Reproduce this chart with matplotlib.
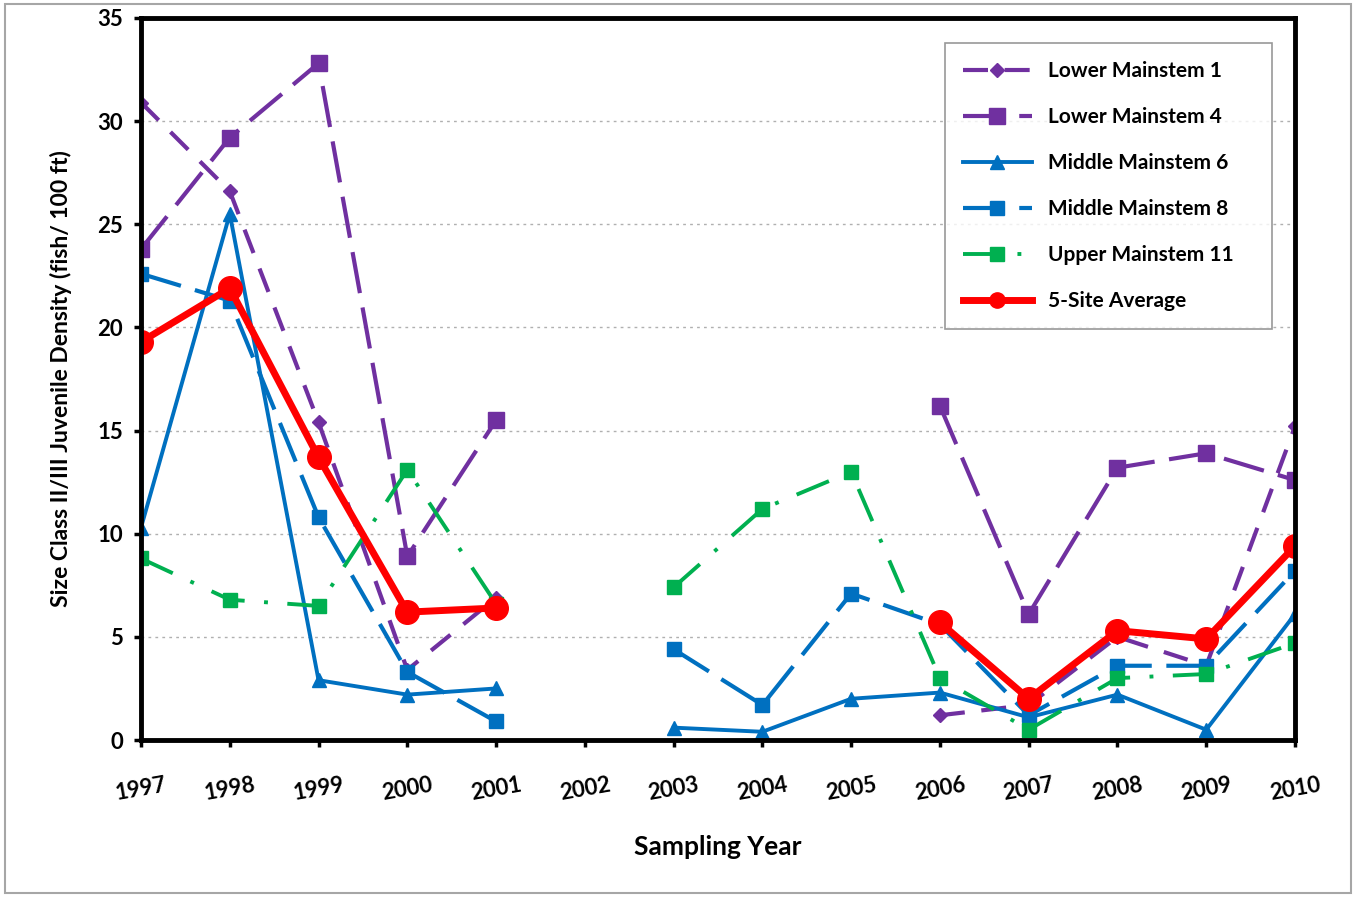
import numpy as np
import matplotlib.pyplot as plt
from matplotlib.patches import Rectangle

plt.rcParams['font.family'] = ['Lato', 'DejaVu Sans']

# 数据（从图中读取，nan 表示缺测）
nan = np.nan
years = ['1997', '1998', '1999', '2000', '2001', '2002', '2003',
         '2004', '2005', '2006', '2007', '2008', '2009', '2010']

lower_ms1 = [30.9, 26.6, 15.4, 3.4, 6.9, nan, nan, nan, nan, 1.2, 1.7, 5.0, 3.6, 15.2]
lower_ms4 = [23.8, 29.2, 32.8, 8.9, 15.5, nan, nan, nan, nan, 16.2, 6.1, 13.2, 13.9, 12.6]
middle_ms6 = [10.3, 25.5, 2.9, 2.2, 2.5, nan, 0.6, 0.4, 2.0, 2.3, 1.1, 2.2, 0.5, 6.1]
middle_ms8 = [22.6, 21.3, 10.8, 3.3, 0.9, nan, 4.4, 1.7, 7.1, 5.6, 1.2, 3.6, 3.6, 8.2]
upper_ms11 = [8.8, 6.8, 6.5, 13.1, 6.6, nan, 7.4, 11.2, 13.0, 3.0, 0.5, 3.0, 3.2, 4.7]
site_avg = [19.3, 21.9, 13.7, 6.2, 6.4, nan, nan, nan, nan, 5.7, 2.0, 5.3, 4.9, 9.4]

purple = '#7030A0'
blue = '#0070C0'
green = '#00B050'
red = '#FF0000'

fig = plt.figure(figsize=(13.56, 8.97), dpi=100)
ax = fig.add_axes([0.104, 0.175, 0.851, 0.805])

x = np.arange(len(years))

ax.plot(x, lower_ms1, color=purple, lw=3, dashes=(6, 4), marker='D', ms=7,
        label='Lower Mainstem 1')
ax.plot(x, lower_ms4, color=purple, lw=3, dashes=(10, 3.5), marker='s', ms=11,
        label='Lower Mainstem 4')
ax.plot(x, middle_ms6, color=blue, lw=2.8, marker='^', ms=10,
        label='Middle Mainstem 6')
ax.plot(x, middle_ms8, color=blue, lw=3, dashes=(10, 3.5), marker='s', ms=10,
        label='Middle Mainstem 8')
ax.plot(x, upper_ms11, color=green, lw=2.8, dashes=(9, 5, 1, 5), marker='s', ms=10,
        label='Upper Mainstem 11')
ax.plot(x, site_avg, color=red, lw=5, marker='o', ms=17,
        label='5-Site Average')

ax.set_xlim(0, 13)
ax.set_ylim(0, 35)
ax.set_yticks(range(0, 36, 5))
ax.set_xticks(x)
ax.set_xticklabels(years, rotation=10, fontsize=16, fontweight='bold')
for lab in ax.get_yticklabels():
    lab.set_fontsize(16)
    lab.set_fontweight('bold')
ax.tick_params(axis='both', direction='out', length=5, width=2.5, pad=8)
ax.tick_params(axis='x', pad=20)

for sp in ax.spines.values():
    sp.set_linewidth(3.5)
    sp.set_color('black')

ax.grid(axis='y', linestyle=(0, (2, 3)), color='#b0b0b0', lw=1)
ax.set_axisbelow(True)

ax.set_xlabel('Sampling Year', fontsize=19, fontweight='bold', labelpad=22)
ax.set_ylabel('Size Class II/III Juvenile Density (fish/ 100 ft)', fontsize=16.5,
              fontweight='bold', labelpad=18)

leg = ax.legend(loc='upper left', bbox_to_anchor=(0.697, 0.579, 0.283, 0.386),
                mode='expand', borderaxespad=0, frameon=True, fancybox=False,
                handlelength=3.3, labelspacing=1.25, borderpad=0.85,
                prop={'weight': 'bold', 'size': 15})
leg.get_frame().set_edgecolor('#7f7f7f')
leg.get_frame().set_linewidth(1.2)
for h in leg.legend_handles:
    h.set_markersize(min(h.get_markersize(), 11))

# 外框
fig.patches.append(Rectangle((0.004, 0.004), 0.992, 0.992, transform=fig.transFigure,
                             fill=False, edgecolor='#a6a6a6', lw=1.5))

plt.savefig('out.png', dpi=100)
